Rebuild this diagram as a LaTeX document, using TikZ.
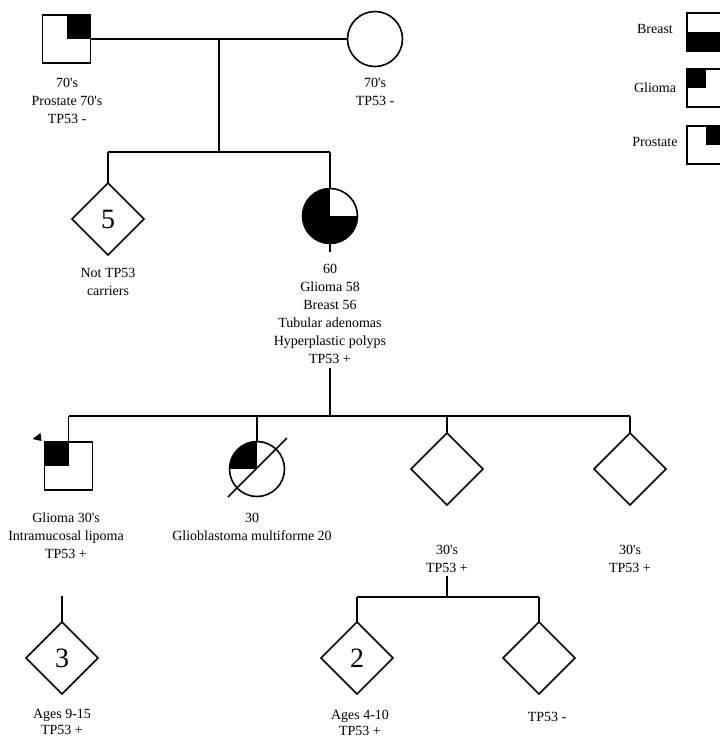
\documentclass[tikz,border=0pt]{standalone}
\usepackage{fontspec}
\setmainfont{Liberation Serif}
\usetikzlibrary{shapes.geometric,calc}
\newcommand{\q}{\textquotesingle}
\begin{document}
\begin{tikzpicture}[x=1pt,y=-1pt,
  sym/.style={draw, line width=1.6pt, inner sep=0pt, outer sep=0pt, fill=white},
  male/.style={sym, rectangle, minimum size=48pt},
  female/.style={sym, circle, minimum size=55pt},
  unk/.style={sym, diamond, minimum size=72pt, font=\fontsize{28}{30}\selectfont},
  legbox/.style={draw, line width=1.2pt, rectangle, minimum size=38pt, inner sep=0pt, outer sep=0pt},
  link/.style={line width=1.1pt},
  lbl/.style={font=\fontsize{14}{18}\selectfont, align=center, inner sep=0pt, anchor=north},
  qNE/.style={path picture={\fill[black] (path picture bounding box.center) rectangle (path picture bounding box.north east);}},
  qNW/.style={path picture={\fill[black] (path picture bounding box.center) rectangle (path picture bounding box.north west);}},
  hS/.style={path picture={\fill[black] (path picture bounding box.west) rectangle (path picture bounding box.south east);}},
  threeq/.style={path picture={\fill[black] (path picture bounding box.south west) rectangle (path picture bounding box.north east);
     \fill[white] (path picture bounding box.center) rectangle (path picture bounding box.north east);}}
]
\useasboundingbox (0,0) rectangle (720,740);
\fill[white] (0,0) rectangle (720,740);

% generation I
\node[male, qNE] (gf) at (66.5,39) {};
\node[female] (gm) at (375,39) {};
\coordinate (m1) at (219,39);
\coordinate (s1) at (219,152);
\draw[link] (gf) -- (gm);
\draw[link] (m1) -- (s1);
\node[lbl] (tgf) at (67,78) {70\q s\\Prostate 70\q s\\TP53 -};
\node[lbl] (tgm) at (375,78) {70\q s\\TP53 -};

% generation II
\node[unk] (d5) at (108,219) {5};
\node[female, threeq] (mo) at (330,216) {};
\coordinate (s1l) at (108,152);
\coordinate (s1r) at (330,152);
\draw[link] (s1l) -- (s1r);
\draw[link] (s1l) -- (d5.north);
\draw[link] (s1r) -- (mo.north);
\coordinate (motick) at (330,252);
\draw[link] (mo.south) -- (motick);
\node[lbl] (td5) at (108,268) {Not TP53\\carriers};
\node[lbl] (tmo) at (330,264) {60\\Glioma 58\\Breast 56\\Tubular adenomas\\Hyperplastic polyps\\TP53 +};

% generation III
\coordinate (mo2) at (330,368);
\coordinate (s2) at (330,416);
\draw[link] (mo2) -- (s2);
\node[male, qNW] (son) at (68.5,466) {};
\node[female, qNW] (da) at (257,469) {};
\node[unk] (c3) at (447,469) {};
\node[unk] (c4) at (630,469) {};
\coordinate (s2l) at (68.5,416);
\coordinate (s2r) at (630,416);
\draw[link] (s2l) -- (s2r);
\draw[link] (s2l) -- (son.north);
\draw[link] (da.north |- s2l) -- (da.north);
\draw[link] (c3.north |- s2l) -- (c3.north);
\draw[link] (s2r) -- (c4.north);
\draw[line width=1.6pt] ($(da.center)+(-29,28)$) -- ($(da.center)+(30,-31)$);
\fill ($(son.north west)+(-12,-3)$) -- ($(son.north west)+(-4,-9)$) -- ($(son.north west)+(-3,-1)$) -- cycle;
\node[lbl] (tson) at (66,513) {Glioma 30\q s\\Intramucosal lipoma\\TP53 +};
\node[lbl] (tda) at (252,513) {30\\Glioblastoma multiforme 20};
\node[lbl] (tc3) at (447,545) {30\q s\\TP53 +};
\node[lbl] (tc4) at (630,545) {30\q s\\TP53 +};

% generation IV
\node[unk] (g1) at (62,658) {3};
\node[unk] (g2) at (357,658) {2};
\node[unk] (g3) at (539,658) {};
\coordinate (g1top) at (62,596);
\draw[link] (g1top) -- (g1.north);
\coordinate (c3d) at (447,576);
\coordinate (s3) at (447,597);
\draw[link] (c3d) -- (s3);
\draw[link] (g2.north |- s3) -- (g3.north |- s3);
\draw[link] (g2.north |- s3) -- (g2.north);
\draw[link] (g3.north |- s3) -- (g3.north);
\node[lbl, font=\fontsize{14}{16.5}\selectfont] (tg1) at (62,709) {Ages 9-15\\TP53 +};
\node[lbl, font=\fontsize{14}{16}\selectfont] (tg2) at (360,710) {Ages 4-10\\TP53 +};
\node[lbl] (tg3) at (547,712) {TP53 -};

% legend
\node[legbox, hS] (lb) at (706,32) {};
\node[legbox, qNW] (lg) at (706,88) {};
\node[legbox, qNE] (lp) at (706,145) {};
\node[font=\fontsize{14}{18}\selectfont, inner sep=0pt] (lbt) at (655,29) {Breast};
\node[font=\fontsize{14}{18}\selectfont, inner sep=0pt] (lgt) at (655,88) {Glioma};
\node[font=\fontsize{14}{18}\selectfont, inner sep=0pt] (lpt) at (655,142) {Prostate};
\end{tikzpicture}
\end{document}
